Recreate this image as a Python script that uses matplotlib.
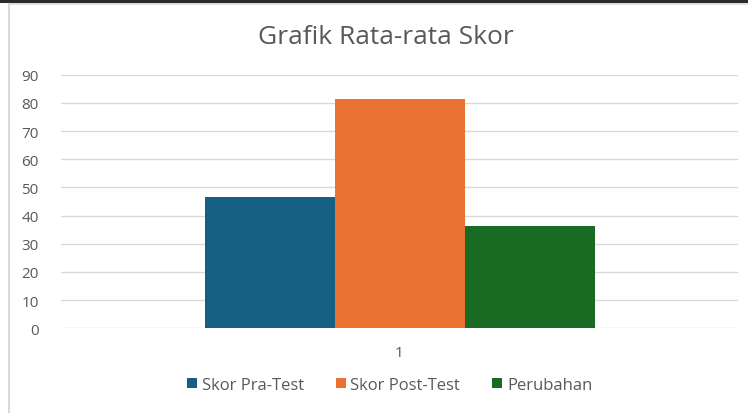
import matplotlib
matplotlib.use("Agg")
import matplotlib.pyplot as plt
from matplotlib.lines import Line2D
from matplotlib.patches import Patch

categories = ["1"]
series_names = ["Skor Pra-Test", "Skor Post-Test", "Perubahan"]
pra_test = [46.7]
post_test = [81.3]
perubahan = [36.3]
y_ticks = [0, 10, 20, 30, 40, 50, 60, 70, 80, 90]
colors = ["#156082", "#E97132", "#196B24"]

plt.rcParams['font.family'] = ['Open Sans', 'DejaVu Sans']
text_color = "#595959"

fig = plt.figure(figsize=(7.48, 4.14), dpi=100)
ax = fig.add_axes([61/748, 1-329.3/414, (738-61)/748, (329.3-75.7)/414])

w = 130/677
xs = [1 + i for i in range(len(categories))]
data = [pra_test, post_test, perubahan]
for k, (vals, c, name) in enumerate(zip(data, colors, series_names)):
    ax.bar([x + (k-1)*w for x in xs], vals, width=w, color=c, label=name, zorder=3)

ax.set_xlim(0.5, len(categories) + 0.5)
ax.set_ylim(0, 90)
ax.set_yticks(y_ticks)
ax.set_yticklabels([str(t) for t in y_ticks])
ax.set_xticks(xs)
ax.set_xticklabels(categories)
ax.grid(axis='y', color='#d9d9d9', linewidth=1.0, zorder=0)
for s in ax.spines.values():
    s.set_visible(False)
ax.tick_params(axis='both', length=0, colors=text_color, labelsize=11)
ax.tick_params(axis='y', pad=16)
ax.tick_params(axis='x', pad=12)

fig.text(385.5/748, 1-38/414, "Grafik Rata-rata Skor", ha='center', va='center',
         fontsize=19, color=text_color)

handles = [Patch(facecolor=c, edgecolor='none') for c in colors]
fig.legend(handles, series_names, loc='center', bbox_to_anchor=(389.5/748, 1-386/414),
           ncol=3, frameon=False, fontsize=12, labelcolor=text_color,
           handlelength=0.6, handleheight=0.6, handletextpad=0.3, columnspacing=1.9)

# frame lines
fig.add_artist(Line2D([0, 1], [1-0.8/414, 1-0.8/414], color='black', linewidth=1.2, transform=fig.transFigure))
fig.add_artist(Line2D([0, 1], [1-3/414, 1-3/414], color='black', linewidth=1.2, transform=fig.transFigure))
fig.add_artist(Line2D([9/748, 1], [1-5/414, 1-5/414], color='#d9d9d9', linewidth=1.2, transform=fig.transFigure))
fig.add_artist(Line2D([9/748, 9/748], [0, 1-5/414], color='#d9d9d9', linewidth=1.5, transform=fig.transFigure))

fig.savefig("out.png", dpi=100)
